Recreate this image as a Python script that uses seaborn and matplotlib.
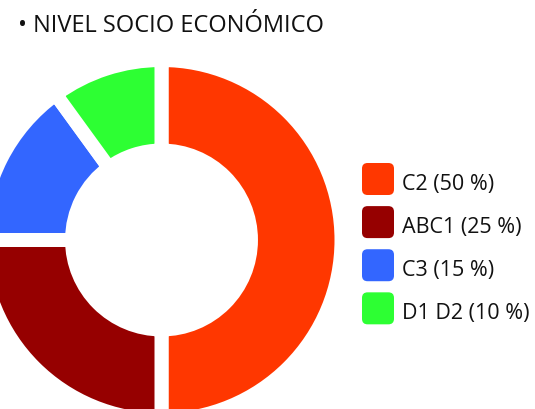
import matplotlib
matplotlib.use("Agg")
import matplotlib.pyplot as plt
import seaborn as sns
from matplotlib.patches import FancyBboxPatch, Patch
from matplotlib.legend_handler import HandlerPatch

categories = ["C2", "ABC1", "C3", "D1 D2"]
values = [50, 25, 15, 10]
labels = ["C2 (50 %)", "ABC1 (25 %)", "C3 (15 %)", "D1 D2 (10 %)"]
colors = ["#FF3700", "#960000", "#3366FF", "#2DFF33"]
title = "• NIVEL SOCIO ECONÓMICO"

sns.set_theme(style="white")
plt.rcParams["font.family"] = ["Open Sans", "DejaVu Sans"]

W, H, DPI = 535, 410, 100
fig = plt.figure(figsize=(W / DPI, H / DPI), dpi=DPI)
ax = fig.add_axes([0, 0, 1, 1])

R_px = 180.0
cx, cy = 161.5, 169.0  # center in px from left / bottom
gap_px = 14
lw_pt = gap_px * 72 / DPI

wedges, _ = ax.pie(values, colors=colors, startangle=90, counterclock=False,
                   radius=1.0,
                   wedgeprops=dict(width=0.503, edgecolor="white", linewidth=lw_pt))
ax.set_aspect("auto")
ax.set_xlim(-cx / R_px, (W - cx) / R_px)
ax.set_ylim(-cy / R_px, (H - cy) / R_px)
ax.axis("off")

fs = 15.5
box_pt = 23.04
hh = (box_pt / fs - 0.245) / 0.65
desc_pt = 0.35 * fs * (hh - 0.7)
SHIFT_PT = desc_pt - 6 * 72 / DPI


class RoundHandler(HandlerPatch):
    def create_artists(self, legend, orig_handle, xdescent, ydescent,
                       width, height, fontsize, trans):
        p = FancyBboxPatch((-xdescent, -ydescent + SHIFT_PT), width, height,
                           boxstyle="round,pad=0,rounding_size=4",
                           facecolor=orig_handle.get_facecolor(),
                           edgecolor="none", transform=trans)
        return [p]


handles = [Patch(facecolor=c) for c in colors]
leg = ax.legend(handles, labels, loc="upper left",
                bbox_to_anchor=(362 / W, 1 - (164 + SHIFT_PT * DPI / 72) / H),
                bbox_transform=fig.transFigure,
                frameon=False, fontsize=fs, borderpad=0, borderaxespad=0,
                handlelength=box_pt / fs, handleheight=hh, handletextpad=0.35,
                labelspacing=8.0 / fs,
                handler_map={Patch: RoundHandler()})
for t in leg.get_texts():
    t.set_color("#111111")

fig.text(18 / W, 1 - 32 / H, title, fontsize=17, color="#111111",
         ha="left", va="baseline")

fig.savefig("out.png", dpi=DPI)
